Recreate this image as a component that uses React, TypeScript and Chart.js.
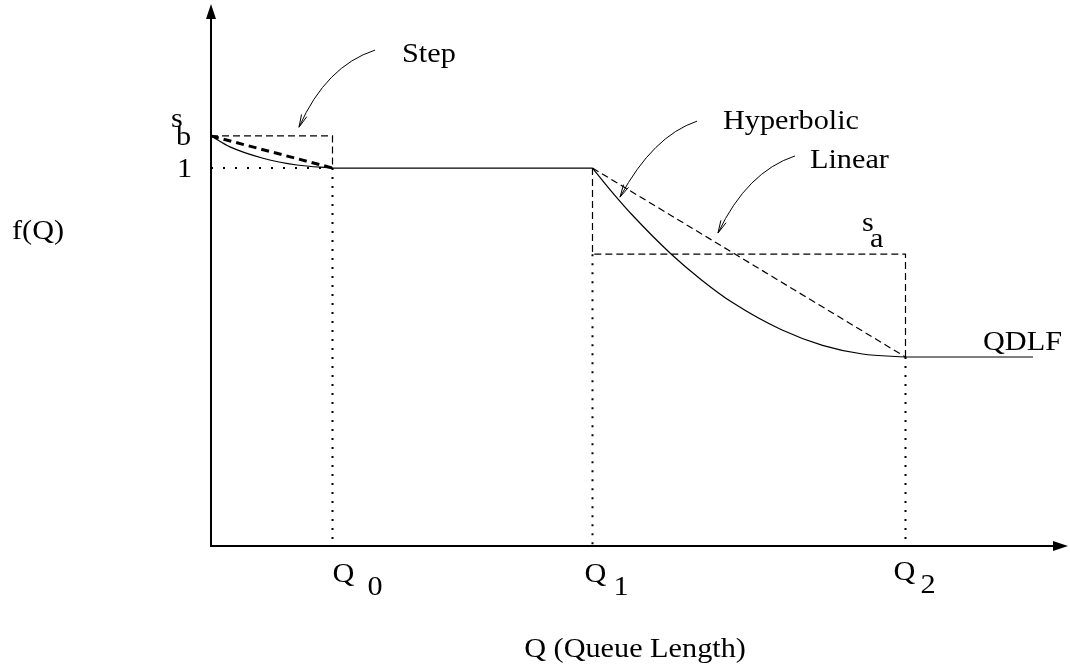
import React, { useEffect, useRef } from "react";
import { Chart, registerables } from "chart.js";

Chart.register(...registerables);

// Key queue lengths (x, arbitrary units) and QDLF levels (y, normalised so the plateau = 1)
const Q0 = 12.15;
const Q1 = 38.15;
const Q2 = 69.45;
const Q_END = 82.2;
const S_B = 1.085;
const ONE = 1.0;
const S_A = 0.772;
const FLOOR = 0.5;
const X_MAX = 85.7;
const Y_MAX = 1.434;

// Hyperbolic (solid) segments
const hypStepX = [0, 1.9, 5.2, 8.6, Q0];
const hypStepY = [S_B, 1.056, 1.026, 1.008, ONE];
const hypMainX = [Q1, 40.15, 42.15, 45.95, 49.05, 52.15, 57.05, 61.15, 65.15, Q2];
const hypMainY = [ONE, 0.935, 0.875, 0.774, 0.704, 0.644, 0.572, 0.531, 0.508, FLOOR];

// Tick labels on the x axis
const tickNames = ["Q", "Q", "Q"];
const tickSubs = ["0", "1", "2"];

const pts = (xs: number[], ys: number[]) => xs.map((x, i) => ({ x, y: ys[i] }));

type Lbl = { t: string; x: number; y: number; align?: CanvasTextAlign };
const labels: Lbl[] = [
  { t: "Step", x: 19.1, y: 1.28 },
  { t: "Hyperbolic", x: 51.2, y: 1.103 },
  { t: "Linear", x: 59.9, y: 1.0 },
  { t: "QDLF", x: 77.2, y: 0.519 },
  { t: "s", x: 65.1, y: 0.833 },
  { t: "a", x: 65.9, y: 0.791 },
  { t: "s", x: -4.0, y: 1.108 },
  { t: "b", x: -3.5, y: 1.061 },
  { t: "1", x: -3.4, y: 0.976 },
  { t: "f(Q)", x: -19.9, y: 0.812 },
  { t: "Q (Queue Length)", x: 42.4, y: -0.294, align: "center" },
];
const tickLabelPos = [
  { qx: Q0, sx: Q0 + 3.5, qy: -0.095, sy: -0.13 },
  { qx: Q1 - 0.8, sx: Q1 + 2.1, qy: -0.095, sy: -0.13 },
  { qx: Q2 - 1.2, sx: Q2 + 1.5, qy: -0.09, sy: -0.124 },
];

// Curved pointer arrows: start, control, tip (data units)
const pointers = [
  [[16.4, 1.312], [11.5, 1.27], [8.8, 1.108]],
  [[48.6, 1.124], [44.2, 1.085], [40.9, 0.923]],
  [[58.4, 1.032], [53.6, 0.99], [50.7, 0.828]],
];

const FONT = '27px "Liberation Serif", "Times New Roman", serif';

const decor = {
  id: "decor",
  afterDatasetsDraw(chart: any) {
    const ctx: CanvasRenderingContext2D = chart.ctx;
    const xs = chart.scales.x;
    const ys = chart.scales.y;
    const X = (v: number) => xs.getPixelForValue(v);
    const Y = (v: number) => ys.getPixelForValue(v);
    ctx.save();
    ctx.strokeStyle = "#000";
    ctx.fillStyle = "#000";
    // axes
    const ox = X(0);
    const oy = Y(0);
    const tx = X(X_MAX);
    const ty = Y(Y_MAX);
    ctx.lineWidth = 2;
    ctx.setLineDash([]);
    ctx.beginPath();
    ctx.moveTo(ox, oy);
    ctx.lineTo(ox, ty + 12);
    ctx.moveTo(ox - 1, oy);
    ctx.lineTo(tx - 12, oy);
    ctx.stroke();
    ctx.beginPath();
    ctx.moveTo(ox, ty);
    ctx.lineTo(ox - 5, ty + 15);
    ctx.lineTo(ox + 5, ty + 15);
    ctx.closePath();
    ctx.fill();
    ctx.beginPath();
    ctx.moveTo(tx, oy);
    ctx.lineTo(tx - 15, oy - 5);
    ctx.lineTo(tx - 15, oy + 5);
    ctx.closePath();
    ctx.fill();

    // pointer arrows
    ctx.lineWidth = 1;
    for (const p of pointers) {
      const [a, c, b] = p.map(([u, v]) => [X(u), Y(v)]);
      ctx.beginPath();
      ctx.moveTo(a[0], a[1]);
      ctx.quadraticCurveTo(c[0], c[1], b[0], b[1]);
      ctx.stroke();
      const ang = Math.atan2(b[1] - c[1], b[0] - c[0]);
      const L = 13;
      const w = 0.22;
      ctx.beginPath();
      ctx.moveTo(b[0] - L * Math.cos(ang - w), b[1] - L * Math.sin(ang - w));
      ctx.lineTo(b[0], b[1]);
      ctx.lineTo(b[0] - L * Math.cos(ang + w), b[1] - L * Math.sin(ang + w));
      ctx.stroke();
    }

    // texts
    ctx.font = FONT;
    ctx.textBaseline = "alphabetic";
    const txt = (s: string, px: number, py: number, align: CanvasTextAlign = "left") => {
      ctx.save();
      ctx.translate(px, py);
      ctx.scale(1.12, 1);
      ctx.textAlign = align;
      ctx.fillText(s, 0, 0);
      ctx.restore();
    };
    for (const l of labels) txt(l.t, X(l.x), Y(l.y), l.align || "left");
    tickLabelPos.forEach((p, i) => {
      txt(tickNames[i], X(p.qx), Y(p.qy));
      txt(tickSubs[i], X(p.sx), Y(p.sy));
    });
    ctx.restore();
  },
};

export default function App() {
  const ref = useRef<HTMLCanvasElement | null>(null);
  useEffect(() => {
    if (!ref.current) return;
    const thin = { borderColor: "#000", borderWidth: 1.2, pointRadius: 0, tension: 0, fill: false };
    const chart = new Chart(ref.current, {
      type: "line",
      data: {
        datasets: [
          { ...thin, label: "Hyperbolic (start)", data: pts(hypStepX, hypStepY), cubicInterpolationMode: "monotone" },
          { ...thin, label: "Hyperbolic", data: pts(hypMainX, hypMainY), cubicInterpolationMode: "monotone" },
          { ...thin, label: "QDLF plateau", data: pts([Q0, Q1], [ONE, ONE]) },
          { ...thin, label: "QDLF floor", data: pts([Q2, Q_END], [FLOOR, FLOOR]) },
          { ...thin, label: "Linear (start)", data: pts([0, Q0], [S_B, ONE]), borderDash: [8, 5], borderWidth: 3 },
          { ...thin, label: "Linear", data: pts([Q1, Q2], [ONE, FLOOR]), borderDash: [7, 4] },
          { ...thin, label: "Step (start)", data: pts([0, Q0, Q0], [S_B, S_B, ONE]), borderDash: [7, 4] },
          { ...thin, label: "Step", data: pts([Q1, Q1, Q2, Q2], [ONE, S_A, S_A, FLOOR]), borderDash: [7, 4] },
          { ...thin, label: "unit", data: pts([0, Q0], [ONE, ONE]), borderDash: [2, 10], borderWidth: 2 },
          { ...thin, label: "Q0 drop", data: pts([Q0, Q0], [ONE, 0]), borderDash: [2, 7], borderWidth: 2 },
          { ...thin, label: "Q1 drop", data: pts([Q1, Q1], [S_A, 0]), borderDash: [2, 7], borderWidth: 2 },
          { ...thin, label: "Q2 drop", data: pts([Q2, Q2], [FLOOR, 0]), borderDash: [2, 7], borderWidth: 2 },
        ] as any,
      },
      options: {
        animation: false,
        responsive: false,
        events: [],
        layout: { padding: { left: 211, right: 2, top: 4, bottom: 120 } },
        scales: {
          x: { type: "linear", min: 0, max: X_MAX, display: false },
          y: { type: "linear", min: 0, max: Y_MAX, display: false },
        },
        plugins: { legend: { display: false }, tooltip: { enabled: false } },
        datasets: { line: { clip: false } as any },
      },
      plugins: [decor],
    });
    return () => chart.destroy();
  }, []);
  return (
    <div style={{ position: "fixed", left: 0, top: 0, width: 1070, height: 666, background: "#fff" }}>
      <canvas ref={ref} width={1070} height={666} />
    </div>
  );
}
